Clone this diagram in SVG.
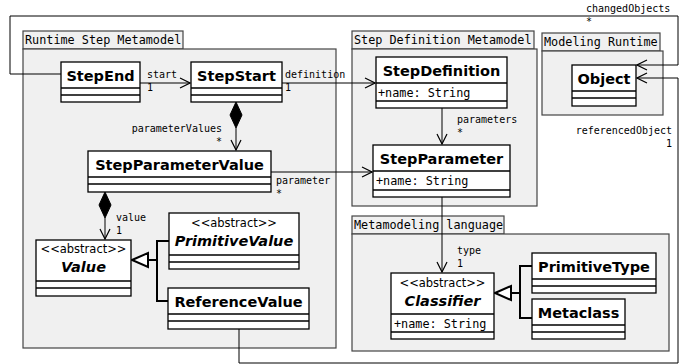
<svg xmlns="http://www.w3.org/2000/svg" width="686" height="364" viewBox="0 0 686 364">
<defs>
<style>
.pkg{fill:#f0f0f0;stroke:#444;stroke-width:1.2}
.tab{fill:#f0f0f0;stroke:#444;stroke-width:1.2}
.cls{fill:#fff;stroke:#000;stroke-width:1.3}
.sep{stroke:#000;stroke-width:1.3;fill:none}
.ptitle{font-family:"DejaVu Sans Mono",monospace;font-size:11.8px;fill:#000}
.lbl{font-family:"DejaVu Sans Mono",monospace;font-size:10px;fill:#000}
.attr{font-family:"DejaVu Sans Mono",monospace;font-size:11.8px;fill:#000}
.name{font-family:"DejaVu Sans",sans-serif;font-size:14.5px;font-weight:bold;fill:#000;text-anchor:middle}
.abs{font-family:"DejaVu Sans",sans-serif;font-size:14.5px;font-weight:bold;font-style:italic;fill:#000;text-anchor:middle}
.st{font-family:"DejaVu Sans",sans-serif;font-size:11.5px;fill:#000;text-anchor:middle}
.ln{stroke:#000;stroke-width:1;fill:none}
.gen{stroke:#000;stroke-width:2;fill:none}
</style>
<marker id="open" viewBox="0 0 12 12" refX="11" refY="6" markerWidth="12" markerHeight="12" markerUnits="userSpaceOnUse" orient="auto">
<path d="M1,1 L11,6 L1,11" fill="none" stroke="#000" stroke-width="1.2"/>
</marker>
</defs>

<g id="pkg-runtime">
<rect class="tab" x="23" y="31" width="160" height="18"/>
<rect class="pkg" x="23" y="49" width="313" height="299"/>
<text class="ptitle" x="25" y="44">Runtime Step Metamodel</text>
</g>
<g id="pkg-stepdef">
<rect class="tab" x="352" y="31" width="182" height="18"/>
<rect class="pkg" x="352" y="49" width="185" height="157"/>
<text class="ptitle" x="354" y="44">Step Definition Metamodel</text>
</g>
<g id="pkg-modeling">
<rect class="tab" x="542" y="33" width="118" height="18"/>
<rect class="pkg" x="542" y="51" width="121" height="64"/>
<text class="ptitle" x="544" y="46">Modeling Runtime</text>
</g>
<g id="pkg-metalang">
<rect class="tab" x="352" y="216" width="152" height="18"/>
<rect class="pkg" x="352" y="234" width="317" height="117"/>
<text class="ptitle" x="354" y="229">Metamodeling language</text>
</g>

<g id="connectors">
<!-- changedObjects -->
<polyline class="ln" points="61,74 10,74 10,16 678,16 678,65 637,65" marker-end="url(#open)"/>
<text class="lbl" x="586" y="12">changedObjects</text>
<text class="lbl" x="586" y="25">*</text>
<!-- start -->
<line class="ln" x1="140" y1="83" x2="190" y2="83" marker-end="url(#open)"/>
<text class="lbl" x="147" y="78">start</text>
<text class="lbl" x="147" y="91">1</text>
<!-- definition -->
<line class="ln" x1="282" y1="83" x2="375" y2="83" marker-end="url(#open)"/>
<text class="lbl" x="285" y="78">definition</text>
<text class="lbl" x="285" y="91">1</text>
<!-- parameterValues composition -->
<path d="M236,102 L242,115 L236,128 L230,115 Z" fill="#000" stroke="#000"/>
<line class="ln" x1="236" y1="128" x2="236" y2="150" marker-end="url(#open)"/>
<text class="lbl" x="222" y="132" text-anchor="end">parameterValues</text>
<text class="lbl" x="222" y="145" text-anchor="end">*</text>
<!-- parameters -->
<line class="ln" x1="442" y1="108" x2="442" y2="144" marker-end="url(#open)"/>
<text class="lbl" x="457" y="123">parameters</text>
<text class="lbl" x="457" y="136">*</text>
<!-- parameter -->
<line class="ln" x1="271" y1="172" x2="372" y2="172" marker-end="url(#open)"/>
<text class="lbl" x="276" y="184">parameter</text>
<text class="lbl" x="276" y="197">*</text>
<!-- value composition -->
<path d="M105,192 L111,205 L105,218 L99,205 Z" fill="#000" stroke="#000"/>
<line class="ln" x1="105" y1="218" x2="105" y2="239" marker-end="url(#open)"/>
<text class="lbl" x="116" y="221">value</text>
<text class="lbl" x="116" y="234">1</text>
<!-- type -->
<line class="ln" x1="442" y1="197" x2="442" y2="272" marker-end="url(#open)"/>
<text class="lbl" x="457" y="254">type</text>
<text class="lbl" x="457" y="267">1</text>
<!-- referencedObject -->
<polyline class="ln" points="239,329 239,363 678,363 678,78 637,78" marker-end="url(#open)"/>
<text class="lbl" x="672" y="134" text-anchor="end">referencedObject</text>
<text class="lbl" x="672" y="147" text-anchor="end">1</text>
<!-- generalization Value -->
<polyline class="gen" points="169,241 157,241 157,301 168,301"/>
<line class="gen" x1="148" y1="260" x2="157" y2="260"/>
<path d="M132,260 L148,253 L148,267 Z" fill="#fff" stroke="#000" stroke-width="2"/>
<!-- generalization Classifier -->
<polyline class="gen" points="532,266 520,266 520,318 532,318"/>
<line class="gen" x1="511" y1="293" x2="520" y2="293"/>
<path d="M495,293 L511,286 L511,300 Z" fill="#fff" stroke="#000" stroke-width="2"/>
</g>

<g id="StepEnd">
<rect class="cls" x="61" y="62" width="79" height="40"/>
<path class="sep" d="M61,88 H140 M61,95 H140"/>
<text class="name" x="100.5" y="81">StepEnd</text>
</g>
<g id="StepStart">
<rect class="cls" x="191" y="62" width="91" height="40"/>
<path class="sep" d="M191,88 H282 M191,95 H282"/>
<text class="name" x="236.5" y="81">StepStart</text>
</g>
<g id="StepParameterValue">
<rect class="cls" x="88" y="151" width="183" height="41"/>
<path class="sep" d="M88,177 H271 M88,184 H271"/>
<text class="name" x="179.5" y="170">StepParameterValue</text>
</g>
<g id="Value">
<rect class="cls" x="36" y="240" width="95" height="56"/>
<path class="sep" d="M36,281 H131 M36,288 H131"/>
<text class="st" x="83.5" y="253">&lt;&lt;abstract&gt;&gt;</text>
<text class="abs" x="83.5" y="272">Value</text>
</g>
<g id="PrimitiveValue">
<rect class="cls" x="169" y="213" width="130" height="56"/>
<path class="sep" d="M169,255 H299 M169,262 H299"/>
<text class="st" x="234" y="227">&lt;&lt;abstract&gt;&gt;</text>
<text class="abs" x="234" y="246">PrimitiveValue</text>
</g>
<g id="ReferenceValue">
<rect class="cls" x="168" y="288" width="141" height="41"/>
<path class="sep" d="M168,314 H309 M168,321 H309"/>
<text class="name" x="238.5" y="307">ReferenceValue</text>
</g>
<g id="StepDefinition">
<rect class="cls" x="376" y="57" width="131" height="51"/>
<path class="sep" d="M376,83 H507 M376,101 H507"/>
<text class="name" x="441.5" y="76">StepDefinition</text>
<text class="attr" x="378" y="97">+name: String</text>
</g>
<g id="StepParameter">
<rect class="cls" x="373" y="145" width="137" height="52"/>
<path class="sep" d="M373,171 H510 M373,190 H510"/>
<text class="name" x="441.5" y="164">StepParameter</text>
<text class="attr" x="376" y="185">+name: String</text>
</g>
<g id="Object">
<rect class="cls" x="572" y="65" width="64" height="41"/>
<path class="sep" d="M572,91 H636 M572,98 H636"/>
<text class="name" x="604" y="84">Object</text>
</g>
<g id="Classifier">
<rect class="cls" x="391" y="273" width="103" height="66"/>
<path class="sep" d="M391,314 H494 M391,332 H494"/>
<text class="st" x="442.5" y="287">&lt;&lt;abstract&gt;&gt;</text>
<text class="abs" x="442.5" y="306">Classifier</text>
<text class="attr" x="394" y="328">+name: String</text>
</g>
<g id="PrimitiveType">
<rect class="cls" x="532" y="253" width="124" height="40"/>
<path class="sep" d="M532,279 H656 M532,286 H656"/>
<text class="name" x="594" y="272">PrimitiveType</text>
</g>
<g id="Metaclass">
<rect class="cls" x="532" y="299" width="93" height="40"/>
<path class="sep" d="M532,325 H625 M532,332 H625"/>
<text class="name" x="578.5" y="318">Metaclass</text>
</g>
</svg>
